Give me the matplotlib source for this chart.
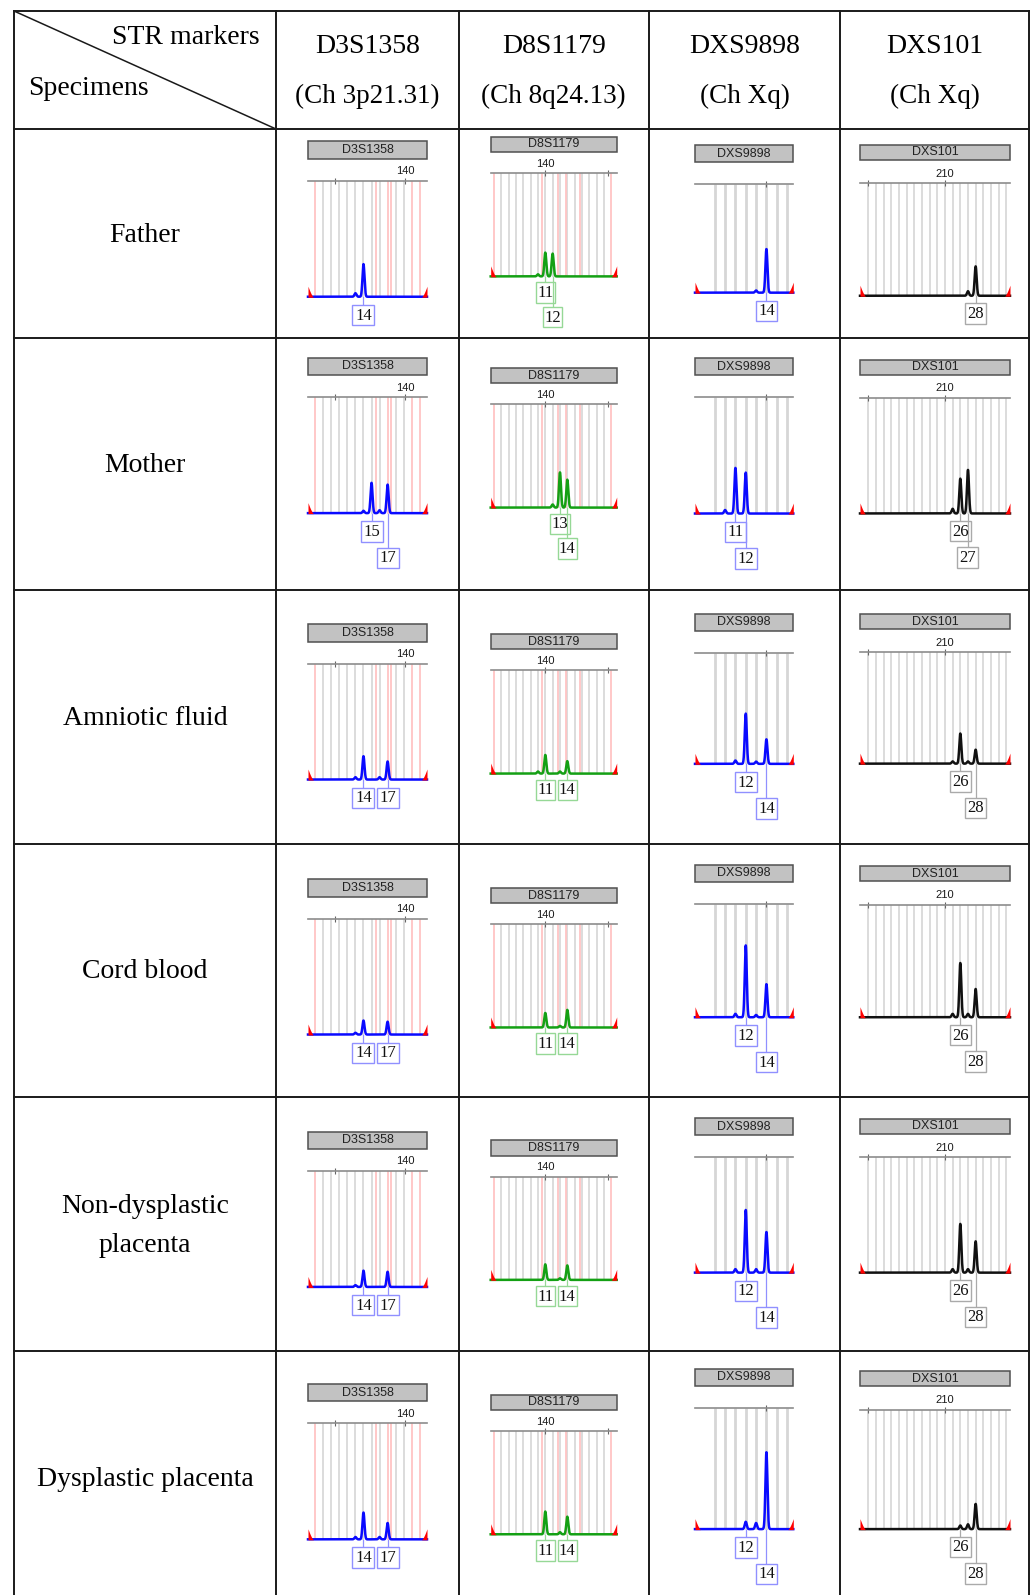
import numpy as np
import matplotlib
matplotlib.use("Agg")
import matplotlib.pyplot as plt
from matplotlib.patches import Rectangle
from matplotlib.transforms import blended_transform_factory

plt.rcParams['font.family'] = ['Liberation Serif', 'DejaVu Serif']

# ---------------- data ----------------
specimens = ["Father", "Mother", "Amniotic fluid", "Cord blood",
             "Non-dysplastic\nplacenta", "Dysplastic placenta"]
markers = ["D3S1358", "D8S1179", "DXS9898", "DXS101"]
locations = ["(Ch 3p21.31)", "(Ch 8q24.13)", "(Ch Xq)", "(Ch Xq)"]
dyes = ["blue", "green", "blue", "black"]

# ladder bins in repeat units (grey = allelic bins, pink = virtual bins)
d3s1358_bins = [9, 10, 11, 12, 13, 14, 15, 16, 18, 19]
d3s1358_pink = [8, 15.5, 17, 17.4, 20, 21]
d8s1179_bins = [5, 6, 7, 8, 9, 10, 11, 12, 13, 14, 15, 16, 17, 18, 19]
d8s1179_pink = [4, 10.5, 12.7, 13.8, 15.7, 20]
dxs9898_bins = [9, 10, 11, 12, 13, 14, 15, 16]
dxs9898_pink = []
dxs101_bins = [14, 15, 16, 17, 18, 19, 20, 21, 22, 23, 24, 25, 26, 27, 28,
               29, 30, 31, 32]
dxs101_pink = []

# size scale ticks (position in repeat units, label in bp)
d3s1358_ticks = [10.5, 19.2]
d3s1358_tick_labels = ["", "140"]
d8s1179_ticks = [10.95, 19.6]
d8s1179_tick_labels = ["140", ""]
dxs9898_ticks = [14]
dxs9898_tick_labels = [""]
dxs101_ticks = [14, 24]
dxs101_tick_labels = ["", "210"]

# peaks per specimen: (allele, relative height)
d3s1358_peaks = [
    [(14, 0.28), (13, 0.03)],
    [(15, 0.26), (17, 0.245), (14, 0.02), (16, 0.025)],
    [(14, 0.20), (17, 0.155), (13, 0.02), (16, 0.02)],
    [(14, 0.12), (17, 0.11), (13, 0.015)],
    [(14, 0.14), (17, 0.13), (13, 0.015)],
    [(14, 0.23), (17, 0.14), (13, 0.02), (16, 0.02)],
]
d8s1179_peaks = [
    [(11, 0.23), (12, 0.22), (10, 0.02)],
    [(13, 0.34), (14, 0.27), (12, 0.03)],
    [(11, 0.18), (14, 0.12), (10, 0.02), (13, 0.02)],
    [(11, 0.14), (14, 0.17), (13, 0.015)],
    [(11, 0.15), (14, 0.14), (13, 0.015)],
    [(11, 0.22), (14, 0.17), (13, 0.02)],
]
dxs9898_peaks = [
    [(14, 0.40), (13, 0.02)],
    [(11, 0.39), (12, 0.35), (10, 0.03)],
    [(12, 0.45), (14, 0.22), (11, 0.03), (13, 0.02)],
    [(12, 0.63), (14, 0.29), (11, 0.03), (13, 0.02)],
    [(12, 0.54), (14, 0.35), (11, 0.03), (13, 0.03)],
    [(12, 0.06), (13, 0.05), (14, 0.63)],
]
dxs101_peaks = [
    [(28, 0.26), (27, 0.04)],
    [(26, 0.30), (27, 0.375), (25, 0.04)],
    [(26, 0.27), (28, 0.125), (25, 0.02), (27, 0.02)],
    [(26, 0.48), (28, 0.25), (25, 0.03), (27, 0.03)],
    [(26, 0.42), (28, 0.27), (25, 0.03), (27, 0.03)],
    [(26, 0.03), (27, 0.04), (28, 0.21)],
]

# called (labelled) alleles
d3s1358_calls = [[14], [15, 17], [14, 17], [14, 17], [14, 17], [14, 17]]
d8s1179_calls = [[11, 12], [13, 14], [11, 14], [11, 14], [11, 14], [11, 14]]
dxs9898_calls = [[14], [11, 12], [12, 14], [12, 14], [12, 14], [12, 14]]
dxs101_calls = [[28], [26, 27], [26, 28], [26, 28], [26, 28], [26, 28]]

bins = [d3s1358_bins, d8s1179_bins, dxs9898_bins, dxs101_bins]
pinks = [d3s1358_pink, d8s1179_pink, dxs9898_pink, dxs101_pink]
ticks = [d3s1358_ticks, d8s1179_ticks, dxs9898_ticks, dxs101_ticks]
tick_labels = [d3s1358_tick_labels, d8s1179_tick_labels,
               dxs9898_tick_labels, dxs101_tick_labels]
peaks = [d3s1358_peaks, d8s1179_peaks, dxs9898_peaks, dxs101_peaks]
calls = [d3s1358_calls, d8s1179_calls, dxs9898_calls, dxs101_calls]

# ---------------- layout (pixels) ----------------
W, H = 1035, 1595
col_x = [14, 276, 458.5, 649, 840, 1029]
row_y = [11, 129, 338, 589.5, 843.5, 1097, 1350.5]
row_label_y = [235, 465, 718.5, 972, 1226, 1479]
panel_x = [(308, 427), (490.7, 616.7), (695, 793.3), (860, 1010)]
panel_xlim = [(7.1, 21.9), (3.55, 20.74), (7.09, 16.6), (12.92, 32.48)]
baseline_y = [[297.2, 276.8, 293.1, 296.2],
              [513.6, 508.0, 514.0, 513.9],
              [780.0, 774.0, 764.3, 764.1],
              [1035.0, 1027.9, 1017.7, 1017.7],
              [1287.4, 1280.3, 1273.1, 1273.1],
              [1539.8, 1534.7, 1529.6, 1529.6]]
axis_h = [[116.5, 103.5, 109, 113],
          [116.5, 103.5, 117, 116],
          [116.5, 103.5, 111.6, 111.7],
          [116.5, 103.5, 114, 113],
          [116.5, 103.5, 116, 116],
          [116.5, 103.5, 122, 120]]
title_gap = [(39.4, 22), (36.7, 21), (38.7, 22), (38.3, 23.3)]
label_w = [22.0, 19.5, 21.5, 21.0]
label_top = [[7.5, 34.0], [5.5, 30.0], [7.5, 34.0], [7.0, 33.5]]
trace_col = {"blue": "#0a0aff", "green": "#14a014", "black": "#111111"}
label_col = {"blue": "#9090ff", "green": "#96d896", "black": "#aaaaaa"}

fig = plt.figure(figsize=(W / 100, H / 100), dpi=100)
bg = fig.add_axes([0, 0, 1, 1])
bg.set_xlim(0, W)
bg.set_ylim(H, 0)
bg.axis('off')

# table grid
lc = '#1a1a1a'
for x in col_x:
    bg.plot([x, x], [row_y[0], H], color=lc, lw=1.4)
for y in row_y:
    bg.plot([col_x[0], col_x[-1]], [y, y], color=lc, lw=1.4)
bg.plot([col_x[0], col_x[1]], [row_y[0], row_y[1]], color=lc, lw=1.1)

bg.text(259.5, 37.7, "STR markers", fontsize=20, ha='right', va='center')
bg.text(28.5, 88.5, "Specimens", fontsize=20, ha='left', va='center')
for c in range(4):
    cx = (col_x[c + 1] + col_x[c + 2]) / 2
    bg.text(cx, 46.8, markers[c], fontsize=20, ha='center', va='center')
    bg.text(cx, 96.7, locations[c], fontsize=19.5, ha='center', va='center')
for r in range(6):
    bg.text((col_x[0] + col_x[1]) / 2, row_label_y[r], specimens[r],
            fontsize=20, ha='center', va='center', linespacing=1.75)


def draw_panel(r, c):
    left, right = panel_x[c]
    bl = baseline_y[r][c]
    ah = axis_h[r][c]
    xlo, xhi = panel_xlim[c]
    ppa = (right - left) / (xhi - xlo)
    ax = fig.add_axes([left / W, 1 - bl / H, (right - left) / W, ah / H])
    ax.patch.set_alpha(0)
    ax.set_xlim(xlo, xhi)
    ax.set_ylim(0, 1)
    for s in ['left', 'right', 'bottom']:
        ax.spines[s].set_visible(False)
    ax.spines['top'].set_color('#8c8c8c')
    ax.spines['top'].set_linewidth(1.2)
    ax.set_yticks([])
    ax.xaxis.tick_top()
    ax.set_xticks(ticks[c], tick_labels[c])
    ax.tick_params(axis='x', length=4, width=0.8, direction='inout',
                   color='#666666', pad=1.2, labelsize=8, labelcolor='#1a1a1a')
    for lab in ax.get_xticklabels():
        lab.set_family(['Liberation Sans', 'DejaVu Sans'])

    # bins
    bw = 2.0 if c == 2 else 1.2
    ax.vlines(bins[c], 0, 1, color='#d6d6d6', lw=bw, zorder=1)
    if pinks[c]:
        ax.vlines(pinks[c], 0, 1, color='#ffc4c4', lw=1.3, zorder=1)

    # trace
    x = np.linspace(xlo, xhi, 2000)
    sig = 1.0 / ppa
    y = np.full_like(x, 0.004)
    for a, h in peaks[c][r]:
        y += h * np.exp(-0.5 * ((x - a) / sig) ** 2)
    ax.plot(x, y, color=trace_col[dyes[c]], lw=1.8, zorder=4, clip_on=False)

    # sizing peaks cut off at both ends
    ew = 5.5 / ppa
    ex = np.linspace(0, ew, 30)
    ey = (11.0 / ah) * (1 - ex / ew) ** 1.4
    ax.fill_between(xlo + ex, 0, ey, color='#ff0000', lw=0, zorder=5, clip_on=False)
    ax.fill_between(xhi - ex, 0, ey, color='#ff0000', lw=0, zorder=5, clip_on=False)

    # marker title box
    gt, gb = title_gap[c]
    ax.add_patch(Rectangle((0, 1 + gb / ah), 1, (gt - gb) / ah,
                           transform=ax.transAxes, clip_on=False,
                           fc='#c2c2c2', ec='#505050', lw=1.1))
    ax.text(0.5, 1 + (gt + gb) / 2 / ah, markers[c], transform=ax.transAxes,
            ha='center', va='center', fontsize=9, color='#222222',
            family=['Liberation Sans', 'DejaVu Sans'])

    # allele call labels
    tr = blended_transform_factory(ax.transData, ax.transAxes)
    box_w = label_w[c] / ppa
    box_h = 20.5 / ah
    row_tops = [-label_top[c][0] / ah, -label_top[c][1] / ah]
    last = None
    ec = label_col[dyes[c]]
    for a in sorted(calls[c][r]):
        k = 0
        if last is not None and (a - last) * ppa < label_w[c] - 0.5:
            k = 1
        else:
            last = a
        top = row_tops[k]
        ax.plot([a, a], [0, top], transform=tr, color=ec, lw=0.9,
                clip_on=False, zorder=3)
        ax.add_patch(Rectangle((a - box_w / 2, top - box_h), box_w, box_h,
                               transform=tr, clip_on=False, fc='white',
                               ec=ec, lw=1.0, zorder=3))
        ax.text(a, top - box_h / 2 - 0.6 / ah, str(a), transform=tr,
                ha='center', va='center', fontsize=12, color='#111111',
                zorder=4)


for r in range(6):
    for c in range(4):
        draw_panel(r, c)

fig.savefig('out.png', dpi=100)
